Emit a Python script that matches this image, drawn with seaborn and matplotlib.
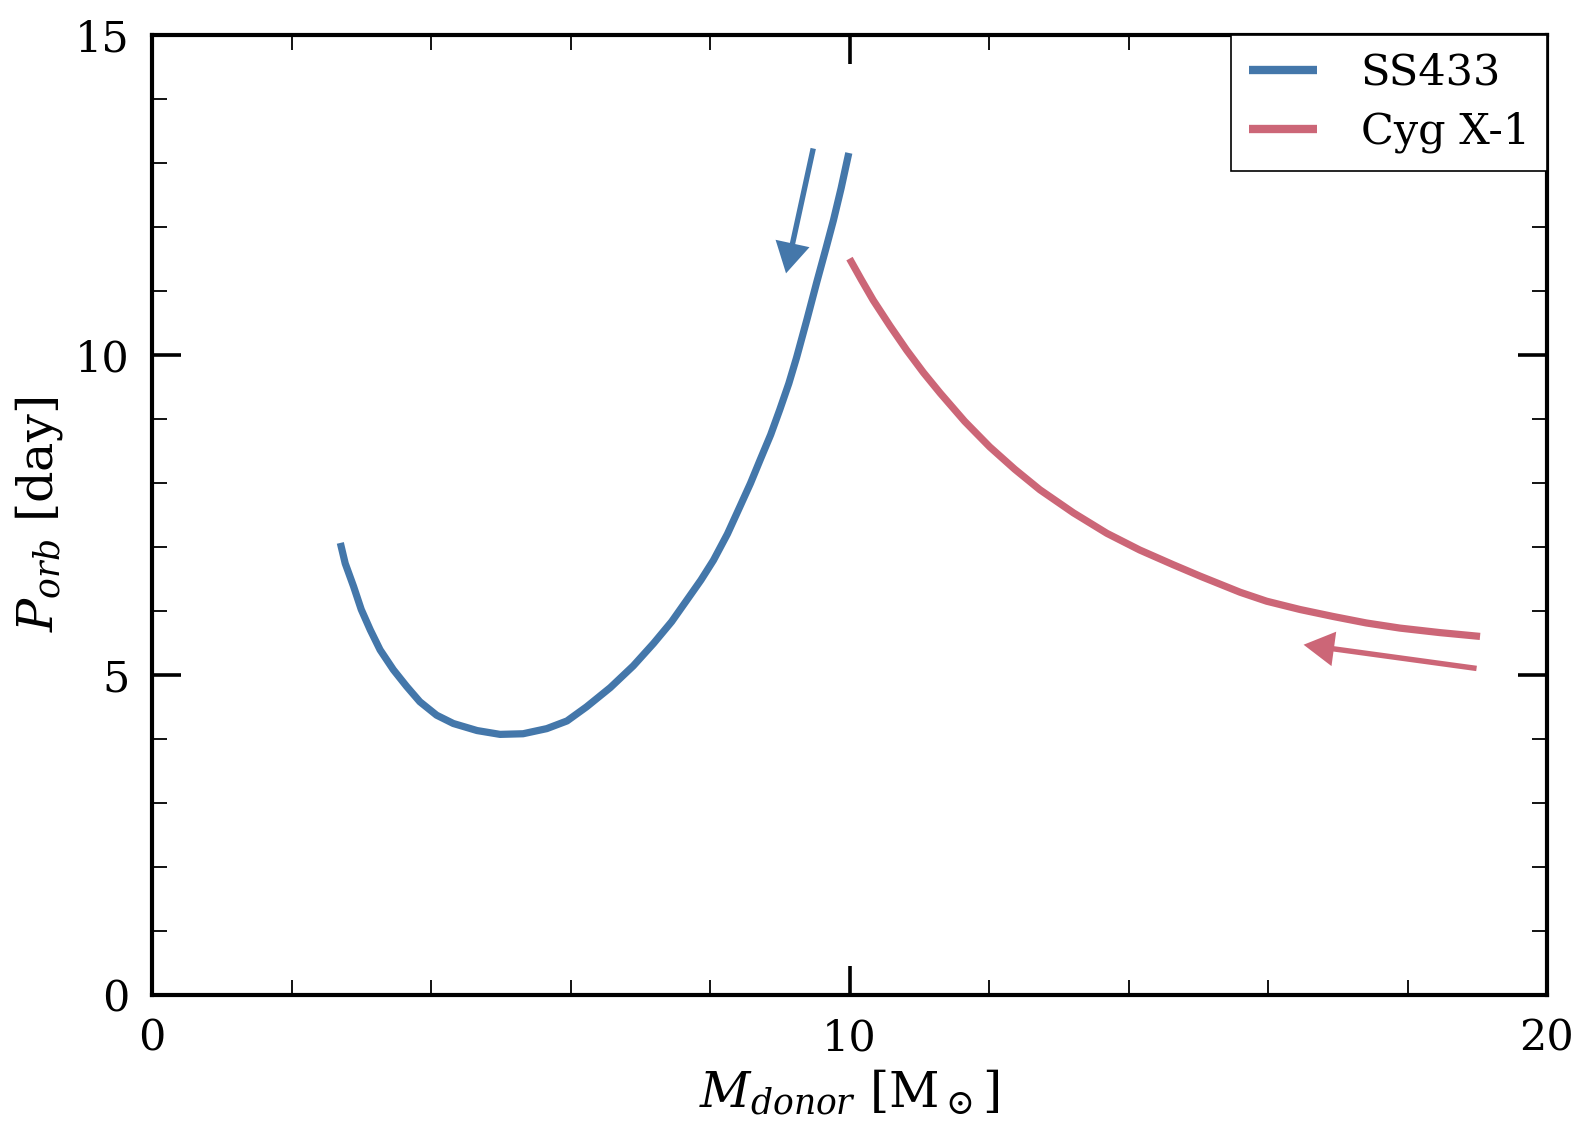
import numpy as np
import pandas as pd
import matplotlib
matplotlib.use("Agg")
import matplotlib.pyplot as plt
import seaborn as sns

# ---- data ----
ss433_m = [2.70, 2.77, 2.89, 3.00, 3.13, 3.27, 3.46, 3.65, 3.84, 4.08, 4.32, 4.66,
           4.99, 5.32, 5.66, 5.95, 6.23, 6.57, 6.90, 7.19, 7.45, 7.67, 7.87, 8.05,
           8.25, 8.43, 8.58, 8.72, 8.87, 9.00, 9.13, 9.24, 9.39, 9.53, 9.66, 9.77,
           9.88, 9.99]
ss433_p = [7.06, 6.74, 6.38, 6.02, 5.70, 5.39, 5.08, 4.82, 4.58, 4.37, 4.24, 4.13,
           4.07, 4.08, 4.16, 4.28, 4.50, 4.80, 5.14, 5.49, 5.83, 6.17, 6.48, 6.79,
           7.20, 7.63, 7.99, 8.36, 8.75, 9.14, 9.55, 9.95, 10.55, 11.13, 11.65, 12.10,
           12.60, 13.15]
cyg_m = [10.00, 10.17, 10.34, 10.58, 10.82, 11.06, 11.30, 11.65, 12.01, 12.37,
         12.73, 13.21, 13.69, 14.16, 14.64, 15.03, 15.60, 15.98, 16.46, 16.94,
         17.41, 17.89, 18.46, 19.04]
cyg_p = [11.50, 11.17, 10.85, 10.45, 10.07, 9.72, 9.40, 8.96, 8.56, 8.21,
         7.89, 7.53, 7.21, 6.95, 6.72, 6.54, 6.29, 6.15, 6.02, 5.91,
         5.81, 5.73, 5.66, 5.60]
# arrows: (tail, head) in data units
ss433_arrow = [(9.48, 13.22), (9.09, 11.27)]
cyg_arrow = [(18.99, 5.10), (16.51, 5.47)]

labels = ["SS433", "Cyg X-1"]
colors = ["#4477AA", "#CC6677"]

x_major = [0, 10, 20]
y_major = [0, 5, 10, 15]

df = pd.concat([
    pd.DataFrame({"M": ss433_m, "P": ss433_p, "sys": labels[0]}),
    pd.DataFrame({"M": cyg_m, "P": cyg_p, "sys": labels[1]}),
], ignore_index=True)

sns.set_style("ticks")
plt.rcParams["font.family"] = ["DejaVu Serif"]
plt.rcParams["mathtext.fontset"] = "dejavuserif"
for k in ["text.color", "axes.labelcolor", "xtick.color", "ytick.color", "axes.edgecolor"]:
    plt.rcParams[k] = "black"

fig = plt.figure(figsize=(15.88, 11.34), dpi=100)
ax = fig.add_axes([152 / 1588, 1 - 995 / 1134, (1547 - 152) / 1588, (995 - 34.5) / 1134])

sns.lineplot(data=df, x="M", y="P", hue="sys", palette=dict(zip(labels, colors)),
             sort=False, estimator=None, linewidth=5.2, ax=ax)
for ln in ax.get_lines():
    ln.set_solid_capstyle("butt")
    ln.set_solid_joinstyle("round")

for (tail, head), c in zip([ss433_arrow, cyg_arrow], colors):
    ax.annotate("", xy=head, xytext=tail,
                arrowprops=dict(width=3.9, headwidth=25, headlength=22,
                                facecolor=c, edgecolor="none", lw=0,
                                shrink=0))

ax.set_xlim(0, 20)
ax.set_ylim(0, 15)
ax.set_xticks(x_major)
ax.set_yticks(y_major)
ax.set_xticks(np.arange(0, 20.1, 2), minor=True)
ax.set_yticks(np.arange(0, 15.1, 1), minor=True)
ax.tick_params(which="both", direction="in", top=True, right=True,
               labelsize=31, pad=16, colors="black")
ax.tick_params(which="major", length=21, width=2.6)
ax.tick_params(which="minor", length=10.5, width=1.3)
for s in ax.spines.values():
    s.set_linewidth(3)
    s.set_color("black")

ax.set_xlabel(r"$M_{donor}$ [M$_\odot$]", fontsize=35.5, labelpad=6)
ax.set_ylabel(r"$P_{orb}$ [day]", fontsize=35.5, labelpad=7)

leg = ax.legend(loc="upper right", borderaxespad=0, fontsize=31, fancybox=False,
                framealpha=1, edgecolor="black", handlelength=1.6,
                handletextpad=1.0, labelspacing=0.4, borderpad=0.4, title=None)
leg.get_frame().set_linewidth(1.2)
for h in leg.get_lines():
    h.set_linewidth(6)
    h.set_solid_capstyle("butt")

fig.savefig("out.png", dpi=100)
